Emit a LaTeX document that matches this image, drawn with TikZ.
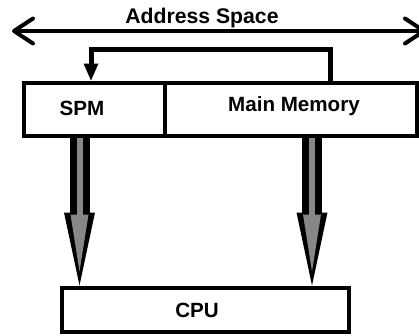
\documentclass[tikz,border=0pt]{standalone}
\usepackage{fontspec}
\setmainfont{Liberation Sans}
\usetikzlibrary{arrows.meta}
\begin{document}
\begin{tikzpicture}[x=1pt,y=-1pt,
  lbl/.style={font=\fontsize{20.6}{24}\selectfont\bfseries, inner sep=0pt},
  membox/.style={draw, line width=4pt, inner sep=0pt},
  spanline/.style={line width=4pt, line cap=round, line join=round,
    {Straight Barb[length=19pt,width=25pt,round]}-{Straight Barb[length=19pt,width=25pt,round]}},
  feedline/.style={line width=5pt, -{Triangle[length=17pt,width=15pt,line width=0pt]}},
  busout/.style={line width=20pt, -{Triangle[length=73pt,width=31pt,line width=0pt]}},
  busin/.style={line width=6pt, draw=black!47, shorten >=14pt,
    -{Triangle[length=57pt,width=18pt,line width=0pt]}}]
\useasboundingbox (0,0) rectangle (419,335);
\clip (0,0) rectangle (419,335);

% memory boxes and the processor
\node[membox, minimum width=140.5pt, minimum height=53pt] (spm) at (94.25,109) {};
\node[membox, minimum width=252.5pt, minimum height=53pt] (mm) at (290.75,109) {};
\node[membox, minimum width=287pt, minimum height=44pt] (cpu) at (205.5,309.5) {};

\node[lbl] (spmtext) at (82,108) {SPM};
\node[lbl] (mmtext) at (294,106) {Main Memory};
\node[lbl] (cputext) at (197,310) {CPU};

% address space span
\coordinate (asl) at (12,31);
\coordinate (asr) at (426,31);
\draw[spanline] (asl) -- (asr);
\node[lbl, font=\fontsize{21.2}{24}\selectfont\bfseries] (astext) at (202,18) {Address Space};

% mapping from main memory back to the scratchpad
\coordinate (fbx) at (91,0);
\draw[feedline] ([xshift=39.75pt]mm.north) -- ++(0,-31) -| (spm.north -| fbx);

% data paths to the CPU
\coordinate (la) at (79.5,0);
\coordinate (ra) at (312,0);
\draw[busout] (spm.south -| la) -- (cpu.north -| la);
\draw[busin] (spm.south -| la) -- (cpu.north -| la);
\draw[busout] (mm.south -| ra) -- (cpu.north -| ra);
\draw[busin] (mm.south -| ra) -- (cpu.north -| ra);
\end{tikzpicture}
\end{document}
